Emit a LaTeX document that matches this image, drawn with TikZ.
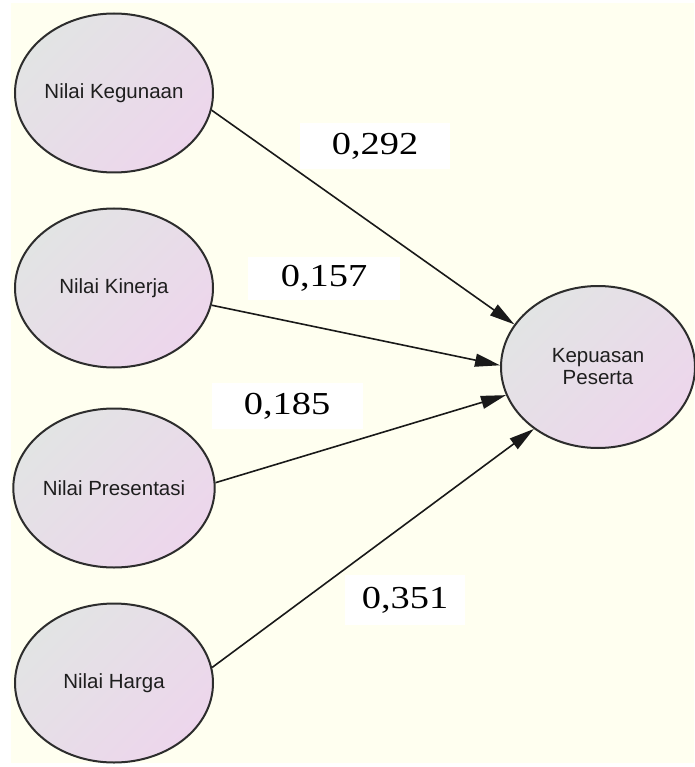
\documentclass[tikz,border=0pt]{standalone}
\usepackage{fontspec}
\usepackage{graphicx}
\setmainfont{Liberation Serif}
\setsansfont{Liberation Sans}
\usetikzlibrary{arrows.meta,shapes.geometric}
\definecolor{cream}{RGB}{255,255,240}
\definecolor{ellgray}{RGB}{226,228,228}
\definecolor{ellpink}{RGB}{237,214,236}
\definecolor{edge}{RGB}{45,45,45}
\definecolor{txt}{RGB}{30,30,30}
\tikzset{
  latent/.style={ellipse, draw=edge, line width=2pt,
    top color=ellgray, bottom color=ellpink, shading angle=45,
    minimum width=198pt, minimum height=159pt, inner sep=0pt,
    font=\sffamily\fontsize{20.5}{23}\selectfont, text=txt, align=center},
  coef/.style={fill=white, inner sep=0pt, minimum height=46pt,
    font=\rmfamily\fontsize{32}{34}\selectfont, text=black},
  pathline/.style={draw=black!90, line width=1.6pt,
    -{Triangle[length=25pt,width=13pt]}}
}
\begin{document}
\begin{tikzpicture}[x=1pt,y=-1pt]
\useasboundingbox (0,0) rectangle (694,767);
\fill[white] (0,0) rectangle (694,767);
\fill[cream] (11,3) rectangle (694,763);
\node[latent] (keg) at (114,93) {Nilai Kegunaan};
\node[latent] (kin) at (114,288) {Nilai Kinerja};
\node[latent] (pre) at (114,488) {Nilai Presentasi};
\node[latent] (har) at (114,683) {Nilai Harga};
\node[latent, minimum width=194pt, minimum height=162pt] (kep) at (598,367) {Kepuasan\\[-1pt]Peserta};
\draw[pathline] (keg.-10) -- (kep.153);
\draw[pathline] (kin.-10) -- (kep.179);
\draw[pathline] (pre.3.5) -- (kep.197);
\draw[pathline] (har.9) -- (kep.224);
\node[coef, minimum width=150pt] (c1) at (375,146) {\scalebox{1.2}[1]{0,292}};
\node[coef, minimum width=152pt, minimum height=43pt] (c2) at (324,278) {\scalebox{1.2}[1]{0,157}};
\node[coef, minimum width=151pt] (c3) at (287,406) {\scalebox{1.2}[1]{0,185}};
\node[coef, minimum width=120pt, minimum height=50pt] (c4) at (405,600) {\scalebox{1.2}[1]{0,351}};
\end{tikzpicture}
\end{document}
